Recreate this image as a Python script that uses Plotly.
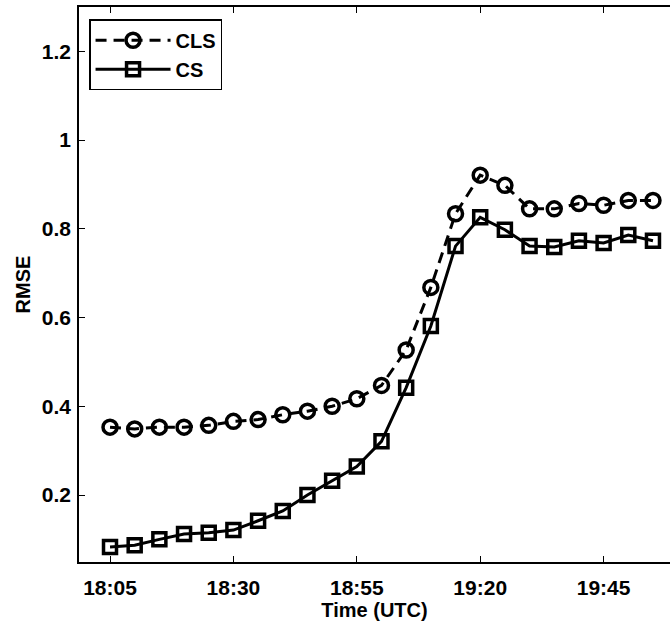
import plotly.graph_objects as go

# Sample times (UTC) and RMSE for the two methods
times = ["18:05", "18:10", "18:15", "18:20", "18:25", "18:30", "18:35", "18:40",
         "18:45", "18:50", "18:55", "19:00", "19:05", "19:10", "19:15", "19:20",
         "19:25", "19:30", "19:35", "19:40", "19:45", "19:50", "19:55"]
cls_rmse = [0.353, 0.349, 0.353, 0.353, 0.357, 0.366, 0.370, 0.381, 0.389, 0.400,
            0.417, 0.447, 0.527, 0.668, 0.834, 0.921, 0.898, 0.845, 0.845, 0.857,
            0.853, 0.864, 0.864]
cs_rmse = [0.083, 0.087, 0.100, 0.112, 0.115, 0.121, 0.142, 0.164, 0.200, 0.232,
           0.264, 0.321, 0.442, 0.581, 0.761, 0.826, 0.798, 0.761, 0.759, 0.773,
           0.768, 0.786, 0.773]
tick_labels = ["18:05", "18:30", "18:55", "19:20", "19:45"]
y_ticks = [0.2, 0.4, 0.6, 0.8, 1.0, 1.2]

DAY = "2000-01-01 "
x = [DAY + t for t in times]

FAMILY = "Liberation Sans, Arial, sans-serif"
TICK_FONT = dict(family=FAMILY, size=21, color="black", weight="bold")
TITLE_FONT = dict(family=FAMILY, size=20, color="black", weight="bold")
LEGEND_FONT = dict(family=FAMILY, size=20, color="black", weight="bold")

fig = go.Figure()
fig.add_trace(go.Scatter(
    x=x, y=cls_rmse, name="CLS", mode="lines+markers",
    line=dict(color="black", width=3, dash="11px,7px"),
    marker=dict(symbol="circle-open", size=14, color="black", line=dict(width=3.5, color="black")),
))
fig.add_trace(go.Scatter(
    x=x, y=cs_rmse, name="CS", mode="lines+markers",
    line=dict(color="black", width=3),
    marker=dict(symbol="square-open", size=13, color="black", line=dict(width=3.5, color="black")),
))

fig.update_layout(
    width=670, height=624,
    margin=dict(l=79, r=0, t=7, b=62),
    paper_bgcolor="white", plot_bgcolor="white",
    font=TICK_FONT,
    showlegend=True,
    legend=dict(
        x=0.017, y=0.978, xanchor="left", yanchor="top",
        bgcolor="white", bordercolor="black", borderwidth=1.5,
        font=LEGEND_FONT, itemwidth=75, tracegroupgap=0,
    ),
)
fig.update_xaxes(
    type="date",
    range=[DAY + "17:58:43", DAY + "19:58:27"],
    tickvals=[DAY + t for t in tick_labels], ticktext=tick_labels,
    ticks="inside", ticklen=6, tickwidth=1, tickcolor="black",
    ticklabelstandoff=6,
    showline=True, linecolor="black", linewidth=1.5, mirror="ticks",
    showgrid=False, zeroline=False,
    title=dict(text="Time (UTC)", font=TITLE_FONT, standoff=4),
    tickfont=TICK_FONT,
)
fig.update_yaxes(
    range=[0.049, 1.30],
    tickvals=y_ticks, ticktext=["0.2", "0.4", "0.6", "0.8", "1", "1.2"],
    ticks="inside", ticklen=6, tickwidth=1, tickcolor="black",
    ticklabelstandoff=2,
    showline=True, linecolor="black", linewidth=1.5, mirror=False,
    showgrid=False, zeroline=False,
    title=dict(text="RMSE", font=TITLE_FONT, standoff=6),
    tickfont=TICK_FONT,
)

fig.write_html("out.html")
